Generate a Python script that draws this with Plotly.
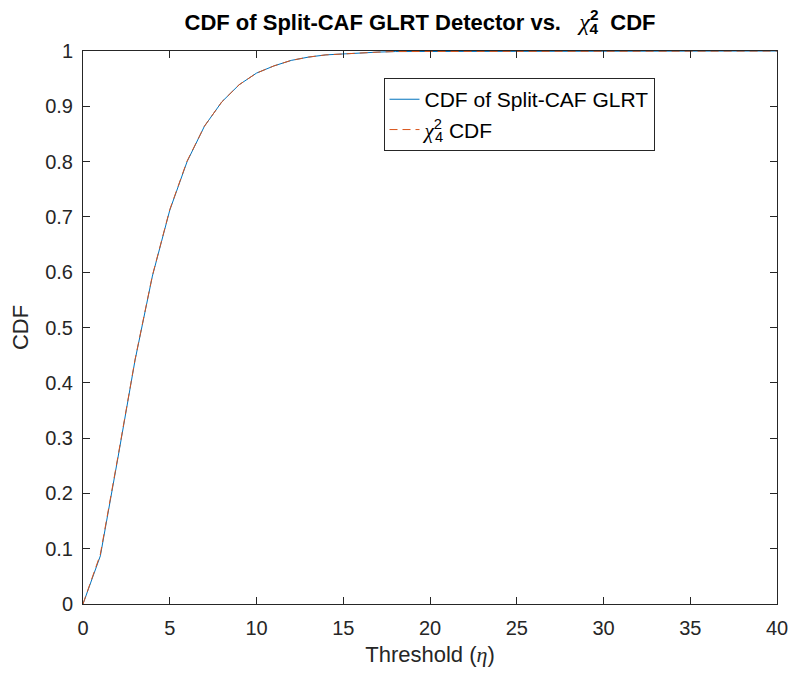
import plotly.graph_objects as go

thresholds = list(range(0, 41))
cdf_glrt = [0.0, 0.087, 0.262, 0.441, 0.593, 0.712, 0.800, 0.864, 0.908, 0.939, 0.960,
            0.973, 0.983, 0.989, 0.993, 0.995, 0.997, 0.998, 0.999, 0.999, 1.0,
            1.0, 1.0, 1.0, 1.0, 1.0, 1.0, 1.0, 1.0, 1.0, 1.0,
            1.0, 1.0, 1.0, 1.0, 1.0, 1.0, 1.0, 1.0, 1.0, 1.0]
cdf_chi2 = [0.0, 0.090, 0.264, 0.442, 0.594, 0.713, 0.801, 0.864, 0.908, 0.939, 0.960,
            0.973, 0.983, 0.989, 0.993, 0.995, 0.997, 0.998, 0.999, 0.999, 1.0,
            1.0, 1.0, 1.0, 1.0, 1.0, 1.0, 1.0, 1.0, 1.0, 1.0,
            1.0, 1.0, 1.0, 1.0, 1.0, 1.0, 1.0, 1.0, 1.0, 1.0]
x_ticks = [0, 5, 10, 15, 20, 25, 30, 35, 40]
y_ticks = [0, 0.1, 0.2, 0.3, 0.4, 0.5, 0.6, 0.7, 0.8, 0.9, 1]
y_tick_text = ["0", "0.1", "0.2", "0.3", "0.4", "0.5", "0.6", "0.7", "0.8", "0.9", "1"]

chi = '<span style="font-family:Liberation Serif;font-style:italic;font-weight:normal;font-size:24px">χ</span>'
chi_stack = chi + '<sup><span style="letter-spacing:-9px">2</span></sup><sub>4</sub>'
chi_leg = '<span style="font-family:Liberation Serif;font-style:italic">χ</span>'
chi_stack_legend = chi_leg + '<sup><span style="letter-spacing:-7px">2</span></sup><sub>4</sub>'

axis_col = "#262626"

fig = go.Figure()
fig.add_trace(go.Scatter(x=thresholds, y=cdf_glrt, mode="lines", name="CDF of Split-CAF GLRT",
                         line=dict(color="#0072BD", width=1)))
fig.add_trace(go.Scatter(x=thresholds, y=cdf_chi2, mode="lines", name=chi_stack_legend + " CDF",
                         line=dict(color="#D95319", width=1, dash="8px,5px")))

fig.update_layout(
    width=800, height=677,
    margin=dict(l=83, r=13, t=51, b=73),
    paper_bgcolor="white", plot_bgcolor="white",
    font=dict(family="Liberation Sans, Arial", size=20, color=axis_col),
    title=dict(text="<b>CDF of Split-CAF GLRT Detector vs.   " + chi_stack + "  CDF</b>",
               x=0.525, xanchor="center", y=0.9675, yanchor="middle",
               font=dict(size=22, color="black")),
    xaxis=dict(range=[0, 40], tickvals=x_ticks, ticks="inside", ticklen=7, tickcolor=axis_col,
               showline=True, linecolor=axis_col, linewidth=1, mirror="allticks",
               showgrid=False, zeroline=False, ticklabelstandoff=6,
               title=dict(text='Threshold (<span style="font-family:Liberation Serif;font-style:italic">η</span>)',
                          font=dict(size=22), standoff=8)),
    yaxis=dict(range=[0, 1], tickvals=y_ticks, ticktext=y_tick_text, ticks="inside", ticklen=7,
               tickcolor=axis_col, showline=True, linecolor=axis_col, linewidth=1, mirror="allticks",
               showgrid=False, zeroline=False, ticklabelstandoff=5,
               title=dict(text="CDF", font=dict(size=22), standoff=10)),
    legend=dict(x=0.433, y=0.951, xanchor="left", yanchor="top", bgcolor="white",
                bordercolor=axis_col, borderwidth=1, font=dict(size=21, color="black")),
    showlegend=True,
)

fig.write_html("out.html")
